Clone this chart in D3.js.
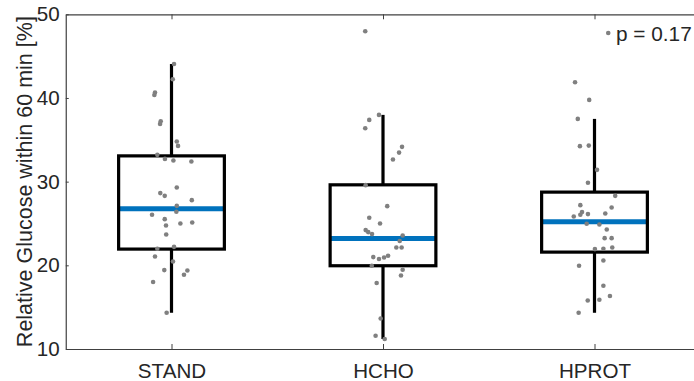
<!DOCTYPE html>
<html>
<head>
<meta charset="utf-8">
<script src="https://cdn.jsdelivr.net/npm/d3@7"></script>
<style>
  html, body { margin: 0; padding: 0; background: #fff; }
  svg { display: block; }
  text { font-family: "Liberation Sans", Arial, Helvetica, sans-serif; fill: #262626; }
</style>
</head>
<body>
<svg id="chart" width="694" height="381"></svg>
<script>
// Groups
const categories = ["STAND", "HCHO", "HPROT"];

// Box statistics per group (quartiles, median, whisker ends)
const q1 = [21.94, 19.95, 21.58];
const medians = [26.75, 23.21, 25.2];
const q3 = [33.08, 29.62, 28.75];
const whiskerLow = [14.33, 11.19, 14.33];
const whiskerHigh = [44.06, 37.98, 37.5];

// Individual observations and their horizontal jitter (in category units)
const standValues = [44.06, 42.24, 40.64, 40.36, 37.22, 36.9, 34.79, 34.27, 33.2, 32.72, 32.52, 32.4,
  29.3, 28.63, 28.3, 27.79, 27.11, 26.4, 26.04, 25.52, 25.0, 25.12, 24.76, 23.68, 21.98, 22.21,
  21.06, 20.46, 19.43, 19.39, 18.87, 18.0, 14.33];
const standJitter = [0.012, 0.006, -0.078, -0.081, -0.051, -0.054, 0.025, 0.031, -0.067, -0.031, 0.009, 0.094,
  0.025, -0.053, -0.032, 0.096, 0.025, 0.023, -0.092, -0.032, 0.042, 0.098, -0.026, -0.025, -0.067, 0.012,
  -0.078, 0.007, -0.034, 0.075, 0.059, -0.087, -0.023];

const hchoValues = [47.97, 37.98, 37.38, 36.39, 34.16, 33.47, 32.64, 29.58, 27.07, 25.68, 25.0, 24.21,
  23.97, 23.73, 23.56, 22.9, 22.13, 22.13, 20.98, 20.75, 20.94, 21.14, 19.95, 19.47, 18.79, 17.88,
  13.65, 11.59, 11.19];
const hchoJitter = [-0.084, -0.019, -0.065, -0.084, 0.09, 0.076, 0.047, -0.082, 0.02, -0.065, -0.014, -0.082,
  -0.07, -0.052, 0.093, 0.079, 0.063, 0.088, -0.046, -0.019, 0.005, 0.024, -0.053, 0.093, 0.085, -0.03,
  -0.011, -0.035, 0.008];

const hprotValues = [47.77, 41.88, 39.77, 37.5, 34.24, 34.31, 31.41, 29.86, 28.3, 27.19, 26.91, 26.36,
  26.12, 25.83, 26.04, 26.19, 24.96, 24.88, 24.28, 23.25, 23.25, 22.13, 21.94, 21.98, 19.95, 20.58,
  17.56, 16.33, 15.89, 15.8, 14.33];
const hprotJitter = [0.065, -0.092, -0.025, -0.079, -0.069, -0.027, 0.012, -0.031, 0.098, -0.067, 0.081, -0.059,
  -0.031, -0.098, -0.067, 0.051, -0.037, 0.023, 0.058, 0.048, 0.081, 0.084, 0.002, 0.042, -0.073, 0.042,
  0.042, 0.073, 0.023, -0.032, -0.075];

const groupValues = [standValues, hchoValues, hprotValues];
const groupJitter = [standJitter, hchoJitter, hprotJitter];

// Axis
const yTicks = [10, 20, 30, 40, 50];
const yLabel = "Relative Glucose within 60 min [%]";
const pLabel = "p = 0.17";

const svg = d3.select("#chart");

const x = d3.scaleLinear().domain([0.5, 3.5]).range([65.75, 700.25]);
const y = d3.scaleLinear().domain([10, 50]).range([349, 14.3]);
const boxHalf = 0.25;

const axisColor = "#404040";

// Boxes, whiskers and medians
const g = svg.append("g");
categories.forEach((c, i) => {
  const cx = i + 1;
  // whiskers
  g.append("line")
    .attr("x1", x(cx)).attr("x2", x(cx))
    .attr("y1", y(q3[i])).attr("y2", y(whiskerHigh[i]))
    .attr("stroke", "#000").attr("stroke-width", 3.2);
  g.append("line")
    .attr("x1", x(cx)).attr("x2", x(cx))
    .attr("y1", y(q1[i])).attr("y2", y(whiskerLow[i]))
    .attr("stroke", "#000").attr("stroke-width", 3.2);
  // median
  g.append("line")
    .attr("x1", x(cx - boxHalf)).attr("x2", x(cx + boxHalf))
    .attr("y1", y(medians[i])).attr("y2", y(medians[i]))
    .attr("stroke", "#0072BD").attr("stroke-width", 5);
  // box
  g.append("rect")
    .attr("x", x(cx - boxHalf))
    .attr("y", y(q3[i]))
    .attr("width", x(cx + boxHalf) - x(cx - boxHalf))
    .attr("height", y(q1[i]) - y(q3[i]))
    .attr("fill", "none")
    .attr("stroke", "#000").attr("stroke-width", 3.2);
});

// Scattered observations
categories.forEach((c, i) => {
  g.selectAll(null)
    .data(groupValues[i].map((v, k) => ({ v, j: groupJitter[i][k] })))
    .join("circle")
    .attr("cx", d => x(i + 1 + d.j))
    .attr("cy", d => y(d.v))
    .attr("r", 2.3)
    .attr("fill", "#808080");
});

// Axes
const yAxis = d3.axisLeft(y).tickValues(yTicks).tickSizeInner(-3).tickSizeOuter(0).tickPadding(6);
const yG = svg.append("g").attr("transform", `translate(${x(0.5)},0)`).call(yAxis);

const xAxis = d3.axisBottom(x).tickValues([1, 2, 3]).tickFormat((d) => categories[d - 1])
  .tickSizeInner(-5).tickSizeOuter(0).tickPadding(14);
const xG = svg.append("g").attr("transform", `translate(0,${y(10)})`).call(xAxis);

const xTop = d3.axisTop(x).tickValues([1, 2, 3]).tickFormat("").tickSizeInner(-5).tickSizeOuter(0);
const xTopG = svg.append("g").attr("transform", `translate(0,${y(50)})`).call(xTop);

[yG, xG, xTopG].forEach(a => {
  a.select(".domain").attr("stroke", axisColor).attr("stroke-width", 1.2);
  a.selectAll(".tick line").attr("stroke", axisColor).attr("stroke-width", 1);
  a.selectAll("text").attr("font-size", 20.6).attr("font-family", "Liberation Sans, Arial, sans-serif").attr("fill", "#262626");
});

// Axis title
svg.append("text")
  .attr("transform", `translate(32,${(y(10) + y(50)) / 2}) rotate(-90)`)
  .attr("text-anchor", "middle")
  .attr("font-size", 21.5)
  .text(yLabel);

// Test statistic
svg.append("text")
  .attr("x", 616)
  .attr("y", 40.5)
  .attr("font-size", 20.8)
  .text(pLabel);
</script>
</body>
</html>
